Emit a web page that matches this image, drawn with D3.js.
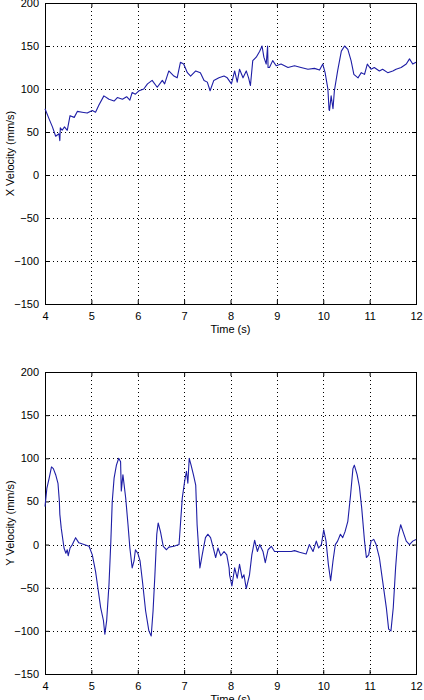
<!DOCTYPE html>
<html>
<head>
<meta charset="utf-8">
<script src="https://cdn.jsdelivr.net/npm/d3@7"></script>
<style>
    body { margin: 0; background: #fff; }
    svg { display: block; }
    text { font-family: "Liberation Sans", Arial, sans-serif; font-size: 11px; fill: #000; }
</style>
</head>
<body>
<div id="chart"></div>
<script>
// x velocity samples (top plot)
var timeX = [4.00, 4.09, 4.16, 4.23, 4.30, 4.32, 4.33, 4.37, 4.42, 4.48, 4.54, 4.63, 4.70, 4.80, 4.91, 5.02, 5.09, 5.16, 5.27, 5.38, 5.49, 5.56, 5.67, 5.76, 5.83, 5.88, 5.95, 6.03, 6.13, 6.21, 6.31, 6.42, 6.53, 6.58, 6.67, 6.78, 6.85, 6.92, 6.99, 7.07, 7.14, 7.25, 7.35, 7.43, 7.50, 7.56, 7.64, 7.75, 7.86, 7.93, 8.02, 8.09, 8.145, 8.195, 8.27, 8.34, 8.39, 8.43, 8.48, 8.555, 8.63, 8.68, 8.72, 8.77, 8.80, 8.81, 8.84, 8.91, 8.985, 9.09, 9.24, 9.38, 9.52, 9.67, 9.81, 9.92, 9.99, 10.04, 10.10, 10.125, 10.135, 10.17, 10.21, 10.24, 10.31, 10.39, 10.46, 10.53, 10.60, 10.66, 10.75, 10.82, 10.89, 10.95, 11.03, 11.10, 11.21, 11.28, 11.39, 11.50, 11.57, 11.68, 11.79, 11.86, 11.93, 12.00];
var velX  = [77, 65, 56, 45, 48, 40, 55, 52, 56, 52, 69, 67, 74, 73, 72, 75, 73, 81, 92, 88, 86, 90, 88, 91, 87, 96, 94, 98, 100, 106, 110, 102, 110, 106, 121, 115, 113, 131, 129, 119, 115, 121, 119, 110, 108, 98, 110, 113, 115, 113, 106, 121, 108, 123, 113, 121, 113, 104, 133, 137, 144, 150, 137, 129, 150, 125, 125, 133, 127, 129, 125, 127, 125, 123, 124, 122, 129, 119, 100, 76, 75, 92, 77, 98, 121, 144, 150, 146, 133, 117, 113, 119, 117, 129, 123, 125, 121, 123, 119, 121, 123, 125, 129, 135, 129, 131];

// y velocity samples (bottom plot)
var timeY = [4.00, 4.04, 4.09, 4.14, 4.18, 4.23, 4.28, 4.31, 4.32, 4.35, 4.41, 4.45, 4.48, 4.50, 4.54, 4.59, 4.66, 4.73, 4.84, 4.95, 5.02, 5.09, 5.14, 5.20, 5.26, 5.29, 5.33, 5.38, 5.42, 5.45, 5.49, 5.54, 5.59, 5.63, 5.645, 5.68, 5.74, 5.79, 5.83, 5.88, 5.92, 5.95, 6.00, 6.05, 6.10, 6.17, 6.24, 6.29, 6.33, 6.37, 6.41, 6.44, 6.49, 6.55, 6.62, 6.67, 6.78, 6.89, 6.92, 6.96, 7.01, 7.05, 7.08, 7.11, 7.15, 7.20, 7.25, 7.28, 7.34, 7.39, 7.46, 7.51, 7.57, 7.63, 7.68, 7.73, 7.79, 7.86, 7.92, 7.97, 7.98, 8.03, 8.09, 8.145, 8.195, 8.25, 8.29, 8.34, 8.41, 8.46, 8.52, 8.58, 8.63, 8.70, 8.75, 8.81, 8.88, 8.95, 9.02, 9.17, 9.31, 9.38, 9.49, 9.63, 9.70, 9.78, 9.85, 9.90, 9.96, 10.01, 10.06, 10.11, 10.16, 10.21, 10.26, 10.31, 10.37, 10.42, 10.47, 10.53, 10.59, 10.64, 10.67, 10.73, 10.78, 10.83, 10.89, 10.93, 10.98, 11.03, 11.09, 11.14, 11.21, 11.28, 11.36, 11.41, 11.46, 11.51, 11.56, 11.61, 11.67, 11.72, 11.79, 11.86, 11.93, 12.00];
var velY  = [44, 65, 77, 90, 88, 81, 71, 50, 35, 19, -4, -10, -6, -13, -4, 0, 8, 2, 0, -2, -12, -31, -50, -73, -88, -104, -88, -46, 4, 50, 77, 92, 100, 96, 62, 81, 54, 23, -4, -27, -19, -6, -10, -19, -42, -77, -100, -106, -77, -35, 12, 25, 15, -2, -6, -3, -2, 0, 23, 54, 73, 85, 71, 100, 92, 81, 69, 23, -27, -12, 8, 12, 8, -4, -15, -4, -13, -8, -12, -27, -35, -48, -27, -39, -23, -39, -35, -51, -35, -12, 5, -8, 0, -8, -21, -6, -2, -8, -8, -8, -8, -7, -9, -11, 0, -8, 4, -4, 0, 17, 4, -23, -42, -19, 0, 4, 12, 8, 15, 27, 58, 88, 92, 81, 67, 42, 4, -15, -12, 4, 6, 0, -15, -42, -73, -98, -100, -73, -27, 8, 23, 15, 4, 0, 4, 6];

// axis ticks shared by both plots
var xTicks = [4, 5, 6, 7, 8, 9, 10, 11, 12];
var yTicks = [-150, -100, -50, 0, 50, 100, 150, 200];

var lineColor = "#1e1ea6";

const svg = d3.select("#chart").append("svg")
    .attr("width", 424)
    .attr("height", 700);

// make both panels
drawPanel({ top: 3, bottom: 304 }, timeX, velX, "X Velocity (mm/s)");
drawPanel({ top: 372, bottom: 674 }, timeY, velY, "Y Velocity (mm/s)");

function drawPanel(box, times, values, yLabel) {
    var left = 45, right = 416;

    var x = d3.scaleLinear().domain([4, 12]).range([left, right]);
    var y = d3.scaleLinear().domain([-150, 200]).range([box.bottom, box.top]);

    var g = svg.append("g");

    // dotted grid
    g.selectAll(".vgrid")
        .data(xTicks.slice(1, -1))
        .enter().append("line")
        .attr("x1", d => Math.round(x(d)) + 0.5).attr("x2", d => Math.round(x(d)) + 0.5)
        .attr("y1", box.top).attr("y2", box.bottom)
        .attr("stroke", "#000").attr("stroke-width", 1)
        .attr("stroke-dasharray", "1,3");
    g.selectAll(".hgrid")
        .data(yTicks.slice(1, -1))
        .enter().append("line")
        .attr("y1", d => Math.round(y(d)) + 0.5).attr("y2", d => Math.round(y(d)) + 0.5)
        .attr("x1", left).attr("x2", right)
        .attr("stroke", "#000").attr("stroke-width", 1)
        .attr("stroke-dasharray", "1,3");

    // axes with inward ticks, labels outside
    var xAxis = d3.axisBottom(x).tickValues(xTicks).tickSizeInner(-4).tickSizeOuter(0).tickPadding(8);
    var yAxis = d3.axisLeft(y).tickValues(yTicks).tickSizeInner(-4).tickSizeOuter(0).tickPadding(6);

    var gx = g.append("g").attr("transform", `translate(0,${box.bottom})`).call(xAxis);
    var gy = g.append("g").attr("transform", `translate(${left},0)`).call(yAxis);
    [gx, gy].forEach(function(a) {
        a.select(".domain").remove();
        a.selectAll("text").style("font-family", "Liberation Sans, Arial, sans-serif").style("font-size", "11px");
    });

    // mirrored ticks on top and right
    g.append("g").attr("transform", `translate(0,${box.top})`)
        .call(d3.axisTop(x).tickValues(xTicks).tickSizeInner(-4).tickSizeOuter(0).tickFormat(""))
        .select(".domain").remove();
    g.append("g").attr("transform", `translate(${right},0)`)
        .call(d3.axisRight(y).tickValues(yTicks).tickSizeInner(-4).tickSizeOuter(0).tickFormat(""))
        .select(".domain").remove();

    // frame
    g.append("rect")
        .attr("x", left + 0.5).attr("y", box.top + 0.5)
        .attr("width", right - left).attr("height", box.bottom - box.top)
        .attr("fill", "none").attr("stroke", "#000").attr("stroke-width", 1);

    // the data line
    var line = d3.line()
        .x((d, i) => x(times[i]))
        .y(d => y(d));
    g.append("path")
        .datum(values)
        .attr("d", line)
        .attr("fill", "none")
        .attr("stroke", lineColor)
        .attr("stroke-width", 1.1)
        .attr("stroke-linejoin", "round");

    // axis titles
    g.append("text")
        .attr("x", (left + right) / 2)
        .attr("y", box.bottom + 29)
        .attr("text-anchor", "middle")
        .text("Time (s)");
    g.append("text")
        .attr("transform", `translate(14,${(box.top + box.bottom) / 2}) rotate(-90)`)
        .attr("text-anchor", "middle")
        .text(yLabel);
}
</script>
</body>
</html>
